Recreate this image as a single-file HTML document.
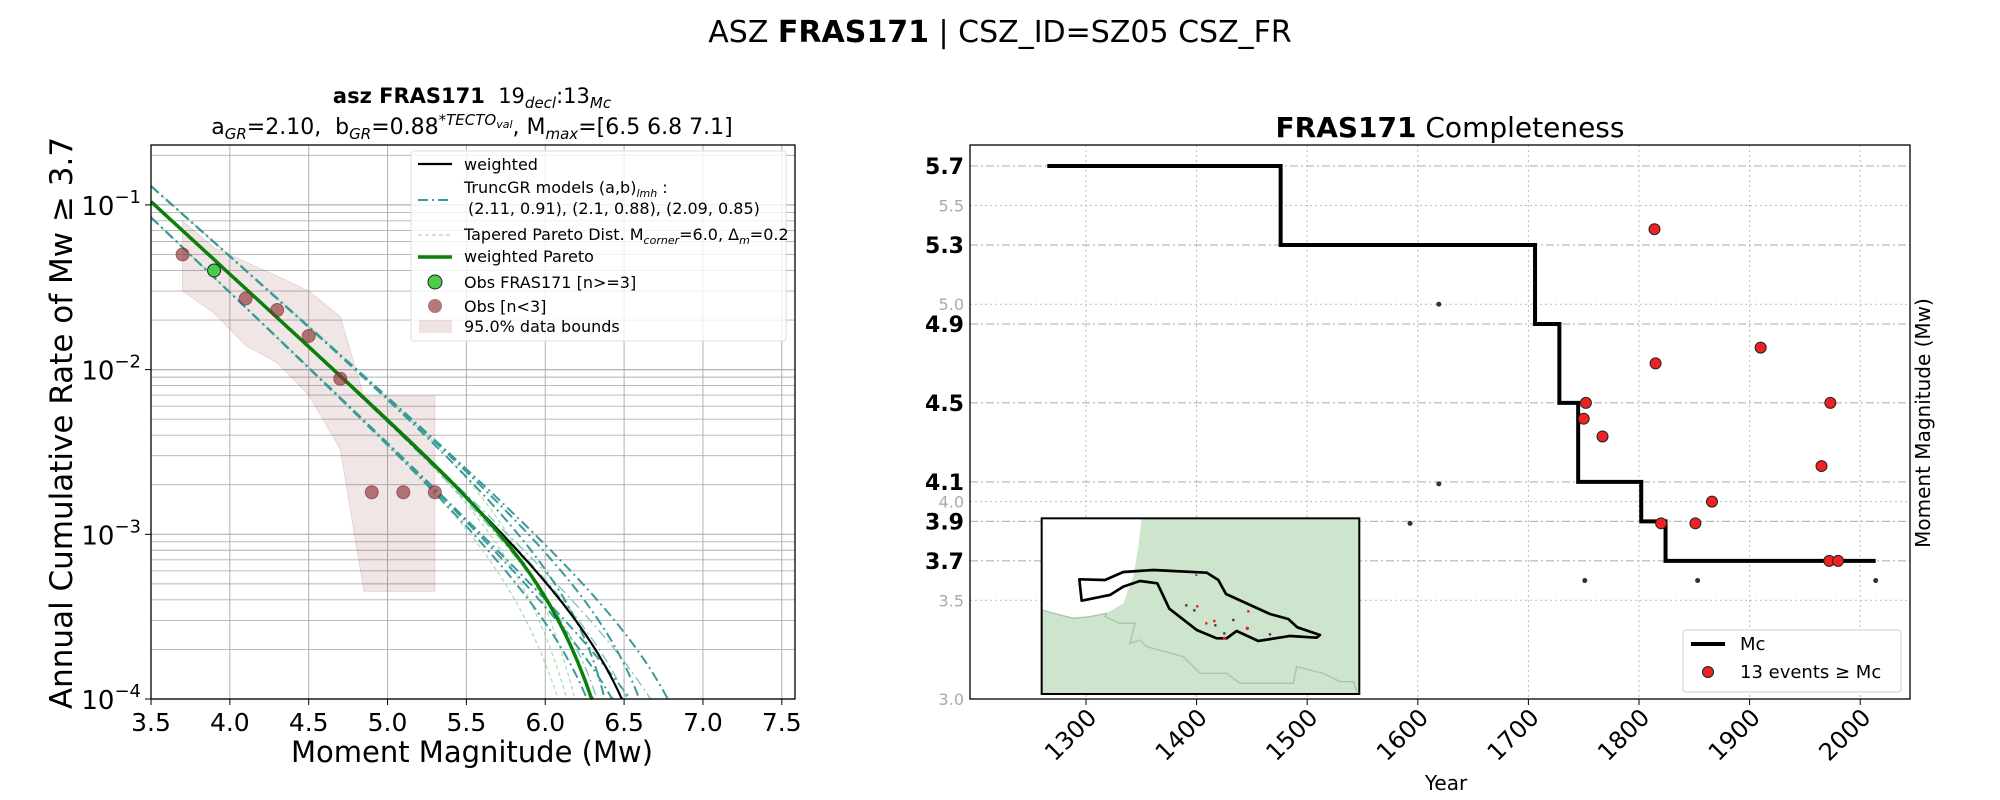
<!DOCTYPE html>
<html><head><meta charset="utf-8"><style>
html,body{margin:0;padding:0;background:#fff;}
svg{display:block;font-family:"DejaVu Sans","Liberation Sans",sans-serif;}
</style></head><body>
<svg id="fig" width="2000" height="800" viewBox="0 0 2000 800" xmlns="http://www.w3.org/2000/svg">
<text x="1000" y="42" font-size="30" text-anchor="middle">ASZ <tspan font-weight="bold">FRAS171</tspan> | CSZ_ID=SZ05 CSZ_FR</text>
<g id="left"></g>
<g id="right"></g>
</svg>
<script>
// ---------- LEFT CHART DATA ----------
const obsMag = [3.7, 3.9, 4.1, 4.3, 4.5, 4.7, 4.9, 5.1, 5.3];
const obsRate = [0.05, 0.04, 0.027, 0.023, 0.016, 0.0088, 0.0018, 0.0018, 0.0018];
const obsGreen = [false, true, false, false, false, false, false, false, false];
const boundMag = [3.7, 3.9, 4.1, 4.3, 4.5, 4.7, 4.85, 5.3];
const boundHi = [0.08, 0.055, 0.045, 0.037, 0.03, 0.021, 0.0069, 0.0069];
const boundLo = [0.03, 0.022, 0.014, 0.011, 0.007, 0.0033, 0.00045, 0.00045];
const modelA = [2.11, 2.10, 2.09];
const modelB = [0.91, 0.88, 0.85];
const mmaxList = [6.5, 6.8, 7.1];
const weightA = 2.10, weightB = 0.88;
const cornerThin = 6.0, cornerWeighted = 6.22;
const xTicks = [3.5, 4.0, 4.5, 5.0, 5.5, 6.0, 6.5, 7.0, 7.5];
const yDecades = [-4, -3, -2, -1];

// ---------- RIGHT CHART DATA ----------
const stepYears = [1265, 1476, 1706, 1728, 1745, 1802, 1824, 2014];
const stepMags = [5.7, 5.3, 4.9, 4.5, 4.1, 3.9, 3.7];
const evYear = [1814, 1910, 1815, 1752, 1973, 1750, 1767, 1965, 1866, 1820, 1851, 1972, 1980];
const evMag = [5.38, 4.78, 4.70, 4.50, 4.50, 4.42, 4.33, 4.18, 4.00, 3.89, 3.89, 3.70, 3.70];
const smallYear = [1619, 1619, 1593, 1751, 1853, 2014];
const smallMag = [5.0, 4.09, 3.89, 3.60, 3.60, 3.60];
const yearTicks = [1300, 1400, 1500, 1600, 1700, 1800, 1900, 2000];
const mcTicks = [5.7, 5.3, 4.9, 4.5, 4.1, 3.9, 3.7];
const minorTicks = [5.5, 5.0, 4.0, 3.5, 3.0];

const NS = "http://www.w3.org/2000/svg";
function el(parent, tag, attrs, text) {
  const e = document.createElementNS(NS, tag);
  for (const k in attrs) e.setAttribute(k, attrs[k]);
  if (text !== undefined) e.textContent = text;
  parent.appendChild(e);
  return e;
}
// ---------- LEFT ----------
const L = document.getElementById('left');
const LX0 = 151, LX1 = 795, LY0 = 145, LY1 = 699;
const lx = m => LX0 + (m - 3.5) * 157.7;
const ly = r => LY1 - (Math.log10(r) + 4) * 164.7;
let g;
for (let d = -4; d <= -1; d++) {
  for (let k = 1; k <= 9; k++) {
    const v = k * Math.pow(10, d);
    const yy = ly(v);
    if (yy < LY0) continue;
    g = el(L, 'line', {x1: LX0, x2: LX1, y1: yy, y2: yy, stroke: '#b0b0b0', 'stroke-width': k === 1 ? 1.2 : 0.9});
    
    
  }
}
xTicks.forEach(t => {
  g = el(L, 'line', {x1: lx(t), x2: lx(t), y1: LY0, y2: LY1, stroke: '#b0b0b0', 'stroke-width': 1});
  
  
});
let pts = boundMag.map((m, i) => lx(m) + ',' + ly(boundHi[i]));
for (let i = boundMag.length - 1; i >= 0; i--) pts.push(lx(boundMag[i]) + ',' + ly(boundLo[i]));
g = el(L, 'polygon', {points: pts.join(' '), fill: 'rgba(150,60,60,0.13)', stroke: 'rgba(150,60,60,0.15)'});



function curve(fn, dash, color, w, name) {
  let d = '';
  for (let m = 3.5; m <= 7.6; m += 0.01) {
    const r = fn(m);
    if (!(r > 0)) break;
    let yy = ly(r);
    if (yy > LY1) { d += 'L' + lx(m).toFixed(1) + ',' + LY1; break; }
    d += (d ? 'L' : 'M') + lx(m).toFixed(1) + ',' + yy.toFixed(1);
  }
  const p = el(L, 'path', {d: d, fill: 'none', stroke: color, 'stroke-width': w});
  if (dash) p.setAttribute('stroke-dasharray', dash);
  
  
}
const trunc = (a, b, mx) => m => Math.pow(10, a - b * m) - Math.pow(10, a - b * mx);
const mom = m => Math.pow(10, 1.5 * m + 9.1);
const taper = (a, b, mc) => m => Math.pow(10, a - b * m) * Math.exp((mom(3.5) - mom(m)) / mom(mc));
modelA.forEach((a, i) => curve(taper(a, modelB[i], cornerThin), '4,3', '#a8dca8', 1.2, 'tapered-pareto-line'));
modelA.forEach((a, i) => mmaxList.forEach(mx => curve(trunc(a, modelB[i], mx), '10,4,2,4', i === 1 ? '#7fbfbf' : '#3a9a9a', i === 1 ? 1.3 : 2, 'truncgr-line')));
curve(m => { let s = 0; mmaxList.forEach(mx => s += trunc(weightA, weightB, mx)(m)); return s / mmaxList.length; }, null, '#000', 2.2, 'weighted-line');
curve(taper(weightA, weightB, cornerWeighted), null, '#0a7f0a', 3.5, 'weighted-pareto-line');
obsMag.forEach((m, i) => {
  g = el(L, 'circle', {cx: lx(m), cy: ly(obsRate[i]), r: 6.5, fill: obsGreen[i] ? '#4ccc4c' : 'rgba(140,50,50,0.65)', stroke: obsGreen[i] ? '#222' : 'rgba(120,40,40,0.6)', 'stroke-width': 1});
  
  
});
el(L, 'rect', {x: LX0, y: LY0, width: LX1 - LX0, height: LY1 - LY0, fill: 'none', stroke: '#000', 'stroke-width': 1.3,  });
xTicks.forEach(t => {
  el(L, 'line', {x1: lx(t), x2: lx(t), y1: LY1, y2: LY1 + 6, stroke: '#000'});
  g = el(L, 'text', {x: lx(t), y: LY1 + 32, 'font-size': 25, 'text-anchor': 'middle'}, t.toFixed(1));
  
  
});
yDecades.forEach(d => {
  el(L, 'line', {x1: LX0 - 6, x2: LX0, y1: ly(Math.pow(10, d)), y2: ly(Math.pow(10, d)), stroke: '#000'});
  g = el(L, 'text', {x: LX0 - 10, y: ly(Math.pow(10, d)) + 10, 'font-size': 26, 'text-anchor': 'end'});
  g.innerHTML = '10<tspan dy="-12" font-size="18">\u2212' + (-d) + '</tspan>';
  
  
});
</script>
<script>
(function(){
const L = document.getElementById('left');
L.insertAdjacentHTML('beforeend', `
<text x="472" y="103" font-size="21" text-anchor="middle" xml:space="preserve"><tspan font-weight="bold">asz FRAS171</tspan>  19<tspan font-size="15" dy="5" font-style="italic">decl</tspan><tspan dy="-5">:13</tspan><tspan font-size="15" dy="5" font-style="italic">Mc</tspan></text>
<text x="472" y="134" font-size="22" text-anchor="middle" xml:space="preserve">a<tspan font-size="15" dy="5" font-style="italic">GR</tspan><tspan dy="-5">=2.10,  b</tspan><tspan font-size="15" dy="5" font-style="italic">GR</tspan><tspan dy="-5">=0.88</tspan><tspan font-size="15" dy="-9" font-style="italic">*TECTO</tspan><tspan font-size="11" dy="3" font-style="italic">val</tspan><tspan dy="6">, M</tspan><tspan font-size="15" dy="5" font-style="italic">max</tspan><tspan dy="-5">=[6.5 6.8 7.1]</tspan></text>
<text transform="translate(72,423) rotate(-90)" font-size="31" text-anchor="middle">Annual Cumulative Rate of Mw  ≥  3.7</text>
<text x="472" y="762" font-size="29" text-anchor="middle">Moment Magnitude (Mw)</text>
<g font-size="16">
<rect x="411" y="151" width="375" height="190" rx="3" fill="rgba(255,255,255,0.8)" stroke="#ddd"/>
<line x1="418" x2="452" y1="164" y2="164" stroke="#000" stroke-width="2.2"/><text x="464" y="170">weighted</text>
<line x1="418" x2="452" y1="200" y2="200" stroke="#3a9a9a" stroke-width="2" stroke-dasharray="10,4,2,4"/><text x="464" y="193">TruncGR models (a,b)<tspan font-size="11" dy="4" font-style="italic">lmh</tspan><tspan dy="-4"> :</tspan></text>
<text x="468" y="214">(2.11, 0.91), (2.1, 0.88), (2.09, 0.85)</text>
<line x1="418" x2="452" y1="235" y2="235" stroke="#a8dca8" stroke-width="1.2" stroke-dasharray="4,3"/><text x="464" y="240">Tapered Pareto Dist. M<tspan font-size="11" dy="4" font-style="italic">corner</tspan><tspan dy="-4">=6.0, Δ</tspan><tspan font-size="11" dy="4" font-style="italic">m</tspan><tspan dy="-4">=0.2</tspan></text>
<line x1="418" x2="452" y1="257" y2="257" stroke="#0a7f0a" stroke-width="3.5"/><text x="464" y="262">weighted Pareto</text>
<circle cx="435" cy="282" r="7" fill="#4ccc4c" stroke="#222"/><text x="464" y="288">Obs FRAS171 [n&gt;=3]</text>
<circle cx="435" cy="306" r="7" fill="rgba(140,50,50,0.65)"/><text x="464" y="312">Obs [n&lt;3]</text>
<rect x="419" y="320" width="33" height="13" fill="rgba(150,60,60,0.15)"/><text x="464" y="332">95.0% data bounds</text>
</g>`);
})();
</script>
<script>
const R = document.getElementById('right');
const RX0 = 970, RX1 = 1910, RY0 = 145, RY1 = 699;
const rx = yr => 1086 + (yr - 1300) * 1.106;
const ry = m => RY1 - (m - 3) * 197.4;
let h;
yearTicks.forEach(t => {
  h = el(R, 'line', {x1: rx(t), x2: rx(t), y1: RY0, y2: RY1, stroke: '#bbb', 'stroke-dasharray': '2,3'});
  
  
  el(R, 'line', {x1: rx(t), x2: rx(t), y1: RY1, y2: RY1 + 6, stroke: '#000'});
  h = el(R, 'text', {transform: 'translate(' + (rx(t) + 12) + ',' + (RY1 + 20) + ') rotate(-45)', 'font-size': 24, 'text-anchor': 'end'}, String(t));
  
  
});
minorTicks.forEach(t => {
  h = el(R, 'line', {x1: RX0, x2: RX1, y1: ry(t), y2: ry(t), stroke: '#bbb', 'stroke-dasharray': '2,3'});
  
  
  h = el(R, 'text', {x: RX0 - 6, y: ry(t) + 6, 'font-size': 16, fill: '#aaa', 'text-anchor': 'end'}, t.toFixed(1));
  
  
});
mcTicks.forEach(t => {
  h = el(R, 'line', {x1: RX0, x2: RX1, y1: ry(t), y2: ry(t), stroke: '#aaa', 'stroke-dasharray': '8,3,2,3'});
  
  
  h = el(R, 'text', {x: RX0 - 6, y: ry(t) + 8, 'font-size': 22, 'font-weight': 'bold', 'text-anchor': 'end'}, t.toFixed(1));
  
  
});
let sd = 'M' + rx(stepYears[0]) + ',' + ry(stepMags[0]);
for (let i = 0; i < stepMags.length; i++) {
  sd += 'L' + rx(stepYears[i + 1]) + ',' + ry(stepMags[i]);
  if (i + 1 < stepMags.length) sd += 'L' + rx(stepYears[i + 1]) + ',' + ry(stepMags[i + 1]);
}
h = el(R, 'path', {d: sd, fill: 'none', stroke: '#000', 'stroke-width': 4});


smallYear.forEach((y, i) => {
  h = el(R, 'circle', {cx: rx(y), cy: ry(smallMag[i]), r: 2.5, fill: '#333'});
  
  
});
evYear.forEach((y, i) => {
  h = el(R, 'circle', {cx: rx(y), cy: ry(evMag[i]), r: 5.5, fill: '#ee2222', stroke: '#222', 'stroke-width': 1});
  
  
});
R.insertAdjacentHTML('beforeend', `
<g transform="translate(1040,510) scale(0.3333)">
<rect x="5" y="25" width="953" height="527" fill="#cde4cd"/>
<path d="M5,25 L305,25 L295,110 L280,200 L250,280 L200,310 L150,320 L100,325 L40,310 L5,300 Z" fill="#fff"/>
<path d="M5,300 L40,310 L100,325 L150,320 L200,310 L195,320 L240,340 L285,340 L270,400 L300,390 L320,410 L430,440 L480,490 L560,490 L600,520 L760,520 L770,470 L850,490 L900,515 L940,515 L950,545" fill="none" stroke="#a9c4a9" stroke-width="4"/>
<path d="M118,208 L195,210 L250,186 L340,180 L500,188 L535,210 L558,252 L690,312 L745,327 L772,352 L840,375 L830,383 L750,378 L655,393 L590,363 L560,385 L530,385 L470,360 L388,296 L352,220 L300,213 L250,230 L210,255 L125,272 Z" fill="none" stroke="#000" stroke-width="8" stroke-linejoin="round"/>
<g fill="#e22"><circle cx="472" cy="289" r="4"/><circle cx="499" cy="340" r="4"/><circle cx="523" cy="333" r="4"/><circle cx="625" cy="304" r="4"/><circle cx="622" cy="355" r="5"/><circle cx="553" cy="385" r="5"/></g>
<g fill="#444"><circle cx="439" cy="286" r="4"/><circle cx="463" cy="301" r="4"/><circle cx="526" cy="346" r="4"/><circle cx="580" cy="330" r="4"/><circle cx="553" cy="370" r="4"/><circle cx="690" cy="373" r="4"/><circle cx="469" cy="195" r="3"/></g>
<rect x="5" y="25" width="953" height="527" fill="none" stroke="#000" stroke-width="6"/>
</g>
<rect x="970" y="145" width="940" height="554" fill="none" stroke="#000" stroke-width="1.3"/>
<text x="1450" y="137" font-size="28" text-anchor="middle"><tspan font-weight="bold">FRAS171</tspan> Completeness</text>
<text x="1446" y="790" font-size="20" text-anchor="middle">Year</text>
<text transform="translate(1930,423) rotate(-90)" font-size="20" text-anchor="middle">Moment Magnitude (Mw)</text>
<g font-size="18">
<rect x="1683" y="630" width="218" height="62" rx="3" fill="#fff" stroke="#ccc"/>
<line x1="1691" x2="1725" y1="644" y2="644" stroke="#000" stroke-width="4"/><text x="1740" y="650">Mc</text>
<circle cx="1708" cy="672" r="5.5" fill="#ee2222" stroke="#222"/><text x="1740" y="678">13 events  ≥  Mc</text>
</g>`);
</script>
</body></html>
